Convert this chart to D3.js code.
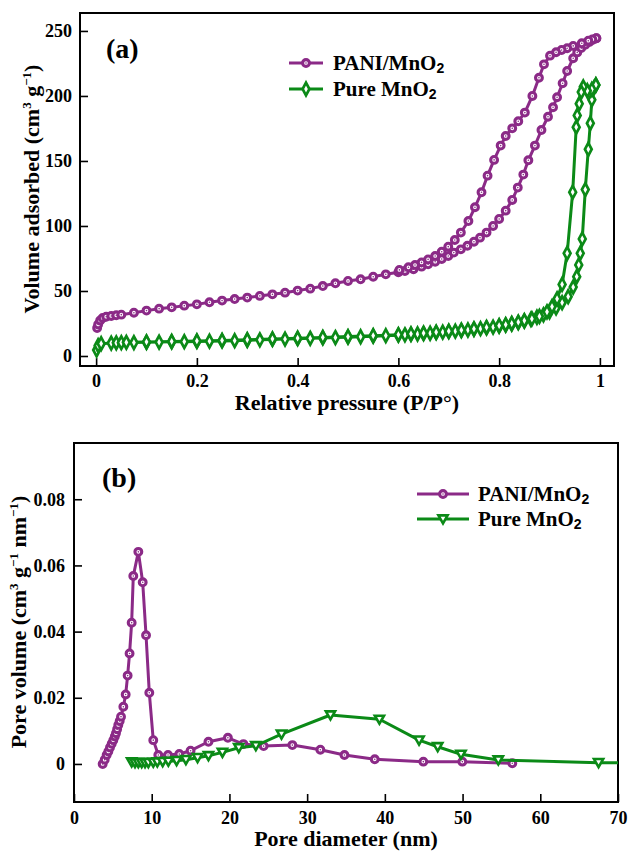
<!DOCTYPE html>
<html>
<head>
<meta charset="utf-8">
<script src="https://cdn.jsdelivr.net/npm/d3@7/dist/d3.min.js"></script>
<style>
  html, body { margin: 0; padding: 0; background: #fff; }
  svg text { font-family: "Liberation Serif", "Times New Roman", serif; font-weight: bold; fill: #000; }
</style>
</head>
<body>
<svg id="chart" width="628" height="852"></svg>
<script>
// ---------- (a) N2 adsorption–desorption isotherms: [P/P0, volume cm3/g] ----------
const paniAdsorption = [
  [0.002,21.5],[0.004,24.2],[0.008,27.3],[0.013,29.2],[0.02,30.2],[0.03,30.8],[0.04,31.3],[0.05,31.8],
  [0.075,33.3],[0.1,34.9],[0.125,36.4],[0.15,37.4],[0.175,38.7],[0.2,39.7],[0.225,41.3],[0.25,42.6],
  [0.275,43.8],[0.3,44.9],[0.325,46.2],[0.35,47.4],[0.375,48.7],[0.4,50.3],[0.425,51.8],[0.45,53.8],
  [0.475,55.9],[0.5,57.7],[0.525,59.0],[0.55,61.0],[0.575,62.8],[0.6,64.4],[0.613,65.4],[0.63,66.7],
  [0.646,68.7],[0.659,70.5],[0.673,72.5],[0.686,74.6],[0.699,76.9],[0.71,79.5],[0.724,82.0],[0.737,84.8],
  [0.75,87.9],[0.762,91.0],[0.775,94.9],[0.788,100.0],[0.8,105.4],[0.813,111.8],[0.826,120.0],[0.837,129.5],
  [0.848,139.5],[0.858,150.5],[0.871,161.8],[0.884,173.8],[0.897,184.0],[0.907,191.3],[0.915,199.0],
  [0.926,209.8],[0.935,219.2],[0.947,229.0],[0.955,233.5],[0.963,236.8],[0.971,239.3],[0.979,241.5],
  [0.986,243.2],[0.993,244.4]
];
const paniDesorption = [
  [0.993,244.4],[0.985,243.5],[0.977,242.5],[0.964,240.5],[0.947,238.5],[0.935,236.7],[0.924,235.4],
  [0.913,233.6],[0.901,231.0],[0.889,224.3],[0.879,214.0],[0.866,200.0],[0.851,187.2],[0.838,180.5],
  [0.826,175.1],[0.813,169.2],[0.803,161.8],[0.79,150.8],[0.777,138.7],[0.765,125.9],[0.752,114.4],
  [0.739,103.8],[0.724,94.9],[0.712,89.2],[0.699,84.1],[0.686,80.2],[0.673,76.9],[0.659,74.3],
  [0.646,72.0],[0.633,70.0],[0.62,68.2],[0.602,66.2]
];
const mno2Adsorption = [
  [0.001,4.6],[0.004,8.0],[0.01,9.5],[0.03,9.9],[0.04,10.1],[0.05,10.2],[0.075,10.3],[0.1,10.5],
  [0.125,10.7],[0.15,10.9],[0.175,11.0],[0.2,11.2],[0.225,11.4],[0.25,11.6],[0.275,11.8],[0.3,12.1],
  [0.325,12.4],[0.35,12.7],[0.375,13.0],[0.4,13.3],[0.425,13.6],[0.45,13.9],[0.475,14.2],[0.5,14.5],
  [0.525,14.8],[0.55,15.2],[0.575,15.6],[0.6,16.0],[0.613,16.3],[0.625,16.6],[0.638,16.9],[0.65,17.2],
  [0.663,17.5],[0.675,17.9],[0.688,18.3],[0.7,18.7],[0.713,19.1],[0.725,19.5],[0.738,20.0],[0.75,20.5],
  [0.763,21.0],[0.775,21.6],[0.788,22.2],[0.8,22.9],[0.813,23.7],[0.825,24.6],[0.838,25.6],[0.85,26.8],
  [0.863,28.2],[0.875,29.8],[0.888,31.7],[0.9,34.0],[0.913,37.0],[0.925,41.0],[0.937,45.6],[0.947,53.0],
  [0.954,61.0],[0.958,70.0],[0.961,79.0],[0.965,90.0],[0.971,128.0],[0.977,159.0],[0.981,179.0],
  [0.984,197.0],[0.988,206.0],[0.992,208.5]
];
const mno2Desorption = [
  [0.992,208.5],[0.984,205.0],[0.975,204.0],[0.967,207.0],[0.963,203.0],[0.959,194.0],[0.955,185.0],
  [0.953,176.0],[0.946,126.0],[0.935,79.0],[0.925,55.0],[0.915,44.0],[0.905,38.0],[0.895,34.0],
  [0.88,30.5],[0.865,28.6],[0.85,27.2],[0.838,26.0],[0.825,25.0],[0.813,24.1],[0.8,23.3],[0.775,22.0],
  [0.75,20.9],[0.725,19.9],[0.7,19.1],[0.675,18.3],[0.65,17.6],[0.625,17.0],[0.6,16.4],[0.55,15.6],
  [0.5,14.9],[0.45,14.3],[0.4,13.7],[0.35,13.1],[0.3,12.5],[0.25,12.0],[0.2,11.6],[0.15,11.2],
  [0.1,10.8],[0.06,10.5]
];
const isoXTicks = [0, 0.2, 0.4, 0.6, 0.8, 1];
const isoXLabels = ["0", "0.2", "0.4", "0.6", "0.8", "1"];
const isoYTicks = [0, 50, 100, 150, 200, 250];
const isoYLabels = ["0", "50", "100", "150", "200", "250"];

// ---------- (b) pore size distribution: [diameter nm, pore volume] ----------
const paniPores = [
  [3.69,0.0000],[3.95,0.0013],[4.2,0.0027],[4.42,0.0038],[4.63,0.0050],[4.85,0.0061],[5.06,0.0072],
  [5.25,0.0083],[5.4,0.0093],[5.55,0.0105],[5.7,0.0118],[5.88,0.0130],[6.05,0.0143],[6.35,0.0173],
  [6.65,0.0210],[6.9,0.0267],[7.15,0.0334],[7.42,0.0427],[7.63,0.0568],[8.28,0.0641],[8.84,0.0549],
  [9.27,0.0389],[9.69,0.0215],[10.2,0.0072],[10.85,0.0027],[12.1,0.0027],[13.55,0.0030],[15.0,0.0040],
  [17.3,0.0067],[19.8,0.0079],[21.8,0.0060],[24.4,0.0054],[28.1,0.0057],[31.7,0.0043],[34.8,0.0027],
  [38.7,0.0014],[44.95,0.0007],[49.97,0.0007],[56.4,0.0002]
];
const mno2Pores = [
  [7.42,0.0006],[7.85,0.0004],[8.28,0.0004],[8.71,0.0004],[9.14,0.0004],[9.57,0.0004],[10.2,0.0005],
  [10.72,0.0006],[11.41,0.0007],[12.14,0.0008],[13.2,0.0010],[14.4,0.0013],[15.9,0.0019],[17.3,0.0025],
  [19.1,0.0035],[21.2,0.0049],[23.4,0.0055],[26.7,0.0090],[33.0,0.0148],[39.3,0.0135],[44.4,0.0072],
  [46.8,0.0052],[49.8,0.0029],[54.6,0.0012],[67.5,0.0004],[73.0,0.0003]
];
const poreXTicks = [0, 10, 20, 30, 40, 50, 60, 70];
const poreXLabels = ["0", "10", "20", "30", "40", "50", "60", "70"];
const poreYTicks = [0, 0.02, 0.04, 0.06, 0.08];
const poreYLabels = ["0", "0.02", "0.04", "0.06", "0.08"];

const seriesNames = ["PANI/MnO", "Pure MnO"];
const PURPLE = "#8b2a87";
const GREEN = "#0b8a17";

const svg = d3.select("#chart");

// ---------- marker painters ----------
function circleMarkers(g, pts, x, y) {
  const m = g.append("g").selectAll("g").data(pts).join("g")
    .attr("transform", d => `translate(${x(d[0])},${y(d[1])})`);
  m.append("circle").attr("r", 3.4).attr("fill", "#fff").attr("stroke", PURPLE).attr("stroke-width", 3.1);
  m.append("circle").attr("r", 0.8).attr("fill", PURPLE);
}
function diamondMarkers(g, pts, x, y) {
  g.append("g").selectAll("path").data(pts).join("path")
    .attr("transform", d => `translate(${x(d[0])},${y(d[1])})`)
    .attr("d", "M0,-6.3L3.4,0L0,6.3L-3.4,0Z")
    .attr("fill", "#fff").attr("stroke", GREEN).attr("stroke-width", 2.7);
}
function triangleMarkers(g, pts, x, y) {
  g.append("g").selectAll("path").data(pts).join("path")
    .attr("transform", d => `translate(${x(d[0])},${y(d[1])})`)
    .attr("d", "M-4.6,-3.6L4.6,-3.6L0,4.4Z")
    .attr("fill", "#fff").attr("stroke", GREEN).attr("stroke-width", 2.6)
    .attr("stroke-linejoin", "miter");
}

// ---------- frame + inward ticks ----------
function drawAxes(x, y, o) {
  const [x0, x1] = x.range();
  const [y0, y1] = y.range();
  const gx = svg.append("g").attr("transform", `translate(0,${y0})`);
  gx.call(d3.axisBottom(x).tickValues(o.xMinor).tickSize(-4).tickFormat(""));
  gx.call(d3.axisBottom(x).tickValues(o.xTicks).tickSize(-8).tickPadding(o.xPad)
    .tickFormat((d, i) => o.xLabels[i]));
  const gy = svg.append("g").attr("transform", `translate(${x0},0)`);
  gy.call(d3.axisLeft(y).tickValues(o.yMinor).tickSize(-4).tickFormat(""));
  gy.call(d3.axisLeft(y).tickValues(o.yTicks).tickSize(-8).tickPadding(o.yPad)
    .tickFormat((d, i) => o.yLabels[i]));
  [gx, gy].forEach(g => {
    g.selectAll(".domain").remove();
    g.selectAll(".tick line").attr("stroke", "#000").attr("stroke-width", 1.6);
    g.selectAll(".tick text").style("font-size", "18px")
      .style("font-family", '"Liberation Serif", serif').style("font-weight", "bold");
  });
  svg.append("rect").attr("x", x0).attr("y", y1).attr("width", x1 - x0).attr("height", y0 - y1)
    .attr("fill", "none").attr("stroke", "#000").attr("stroke-width", 2);
}

function legendRow(cx, cy, half, textX, color, marker, label) {
  const g = svg.append("g");
  g.append("line").attr("x1", cx - half).attr("x2", cx + half).attr("y1", cy).attr("y2", cy)
    .attr("stroke", color).attr("stroke-width", 3);
  const lx = d3.scaleLinear().domain([0, 1]).range([cx, cx + 1]);
  const ly = d3.scaleLinear().domain([0, 1]).range([cy, cy + 1]);
  marker(g, [[0, 0]], lx, ly);
  const t = g.append("text").attr("x", textX).attr("y", cy + 7).style("font-size", "21px");
  t.append("tspan").text(label);
  t.append("tspan").attr("dy", 3).style("font-size", "14px")
    .style("font-family", '"Liberation Sans", Arial, sans-serif').text("2");
}

// =================== panel (a) ===================
const xA = d3.scaleLinear().domain([-0.032, 1.028]).range([80, 614]);
const yA = d3.scaleLinear().domain([-7.7, 263.8]).range([366, 13]);
const lineA = d3.line().x(d => xA(d[0])).y(d => yA(d[1]));

drawAxes(xA, yA, {
  xTicks: isoXTicks, xLabels: isoXLabels, xMinor: d3.range(0, 21).map(i => i * 0.05), xPad: 8,
  yTicks: isoYTicks, yLabels: isoYLabels, yMinor: d3.range(0, 27).map(i => i * 10), yPad: 8
});

const gA = svg.append("g");
const mno2Loop = mno2Adsorption.concat(mno2Desorption);
gA.append("path").attr("d", lineA(mno2Loop)).attr("fill", "none")
  .attr("stroke", GREEN).attr("stroke-width", 3).attr("stroke-linejoin", "round");
diamondMarkers(gA, mno2Loop, xA, yA);
const paniLoop = paniAdsorption.concat(paniDesorption);
gA.append("path").attr("d", lineA(paniLoop)).attr("fill", "none")
  .attr("stroke", PURPLE).attr("stroke-width", 3).attr("stroke-linejoin", "round");
circleMarkers(gA, paniLoop, xA, yA);

svg.append("text").attr("x", 106).attr("y", 58).style("font-size", "28px").text("(a)");
legendRow(306, 63, 17, 333, PURPLE, circleMarkers, seriesNames[0]);
legendRow(306, 89, 17, 333, GREEN, diamondMarkers, seriesNames[1]);

svg.append("text").attr("x", 347).attr("y", 410).attr("text-anchor", "middle")
  .style("font-size", "22px").text("Relative pressure (P/P°)");
const tA = svg.append("text").attr("transform", "translate(39,189) rotate(-90)")
  .attr("text-anchor", "middle").style("font-size", "22px");
tA.append("tspan").text("Volume adsorbed (cm");
tA.append("tspan").attr("dy", -8).style("font-size", "13px").text("3");
tA.append("tspan").attr("dy", 8).text(" g");
tA.append("tspan").attr("dy", -8).style("font-size", "13px").text("−1");
tA.append("tspan").attr("dy", 8).text(")");

// =================== panel (b) ===================
const xB = d3.scaleLinear().domain([0, 70]).range([74, 618]);
const yB = d3.scaleLinear().domain([-0.0115, 0.097]).range([802, 443]);
const lineB = d3.line().x(d => xB(d[0])).y(d => yB(d[1]));

svg.append("clipPath").attr("id", "clipB").append("rect")
  .attr("x", 74).attr("y", 443).attr("width", 544).attr("height", 359);

drawAxes(xB, yB, {
  xTicks: poreXTicks, xLabels: poreXLabels, xMinor: d3.range(0, 36).map(i => i * 2), xPad: 9,
  yTicks: poreYTicks, yLabels: poreYLabels, yMinor: d3.range(-2, 20).map(i => i * 0.005), yPad: 9
});

const gB = svg.append("g").attr("clip-path", "url(#clipB)");
gB.append("path").attr("d", lineB(paniPores)).attr("fill", "none")
  .attr("stroke", PURPLE).attr("stroke-width", 3).attr("stroke-linejoin", "round");
circleMarkers(gB, paniPores, xB, yB);
gB.append("path").attr("d", lineB(mno2Pores)).attr("fill", "none")
  .attr("stroke", GREEN).attr("stroke-width", 3).attr("stroke-linejoin", "round");
triangleMarkers(gB, mno2Pores, xB, yB);

svg.append("text").attr("x", 102).attr("y", 487).style("font-size", "28px").text("(b)");
legendRow(443, 494, 26, 478, PURPLE, circleMarkers, seriesNames[0]);
legendRow(443, 519, 26, 478, GREEN, triangleMarkers, seriesNames[1]);

svg.append("text").attr("x", 346).attr("y", 846).attr("text-anchor", "middle")
  .style("font-size", "22px").text("Pore diameter (nm)");
const tB = svg.append("text").attr("transform", "translate(26,622) rotate(-90)")
  .attr("text-anchor", "middle").style("font-size", "22px");
tB.append("tspan").text("Pore volume (cm");
tB.append("tspan").attr("dy", -8).style("font-size", "13px").text("3");
tB.append("tspan").attr("dy", 8).text(" g");
tB.append("tspan").attr("dy", -8).style("font-size", "13px").text("−1");
tB.append("tspan").attr("dy", 8).text(" nm");
tB.append("tspan").attr("dy", -8).style("font-size", "13px").text("−1");
tB.append("tspan").attr("dy", 8).text(")");
</script>
</body>
</html>
